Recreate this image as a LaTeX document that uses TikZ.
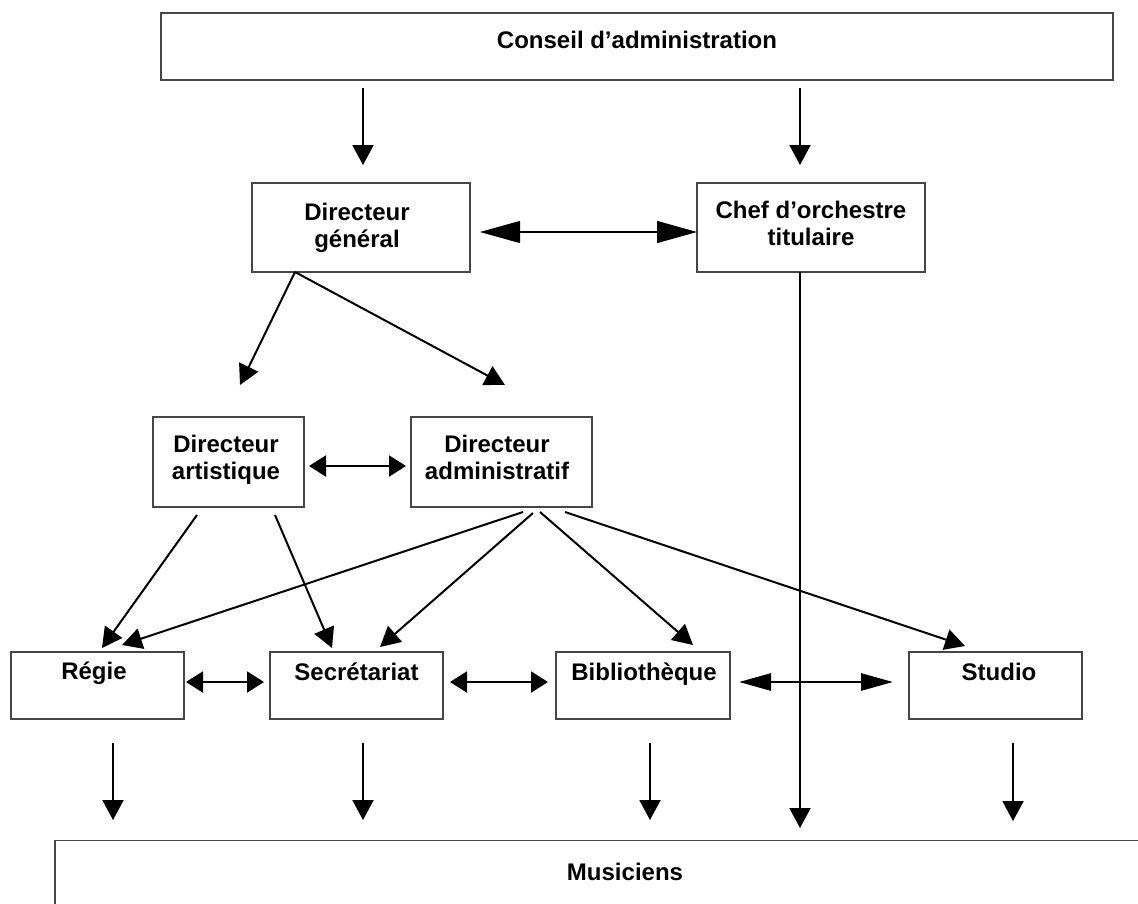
\documentclass[tikz,border=0pt]{standalone}
\usepackage{fontspec}
\setmainfont{Liberation Sans}
\usetikzlibrary{arrows.meta}
\begin{document}
\begin{tikzpicture}[x=1pt,y=-1pt,
  box/.style={draw=gray!55!black, line width=1.2pt, fill=white, inner sep=0pt},
  lbl/.style={font=\fontsize{24}{27}\selectfont\bfseries, align=center, inner sep=0pt, anchor=base},
  arr/.style={line width=2pt, -{Triangle[length=20pt,width=21pt]}},
  darr/.style={line width=2pt, {Triangle[length=17pt,width=21pt]}-{Triangle[length=17pt,width=21pt]}},
  thinarr/.style={line width=1.1pt, {Triangle[length=40pt,width=22pt]}-{Triangle[length=40pt,width=22pt]}},
  thickarr/.style={line width=2.8pt, {Triangle[length=32pt,width=17pt]}-{Triangle[length=32pt,width=17pt]}}]
\useasboundingbox (0,0) rectangle (1138,903);
\clip (0,0) rectangle (1138,903);
\fill[white] (0,0) rectangle (1138,903);

% boxes
\node[box, minimum width=952, minimum height=67] (conseil) at (637,46.5) {};
\node[box, minimum width=218, minimum height=89] (dg) at (361,227.5) {};
\node[box, minimum width=228, minimum height=89] (chef) at (811,227.5) {};
\node[box, minimum width=151, minimum height=90] (dart) at (228.5,462) {};
\node[box, minimum width=181, minimum height=90] (dadm) at (501.5,462) {};
\node[box, minimum width=173, minimum height=67] (regie) at (97.5,685.5) {};
\node[box, minimum width=173, minimum height=67] (secr) at (356.5,685.5) {};
\node[box, minimum width=174, minimum height=67] (biblio) at (643,685.5) {};
\node[box, minimum width=173, minimum height=67] (studio) at (995.5,685.5) {};
\node[box, minimum width=1140, minimum height=120] (music) at (625,900.5) {};

% labels (base = baseline of the last line)
\node[lbl] (conseil-t) at (637,48) {Conseil d’administration};
\node[lbl] (dg-t) at (357,247) {Directeur\\général};
\node[lbl] (chef-t) at (811,245) {Chef d’orchestre\\titulaire};
\node[lbl] (dart-t) at (226,479) {Directeur\\artistique};
\node[lbl] (dadm-t) at (497,479) {Directeur\\administratif};
\node[lbl] (regie-t) at (94,679) {Régie};
\node[lbl] (secr-t) at (356.5,680) {Secrétariat};
\node[lbl] (biblio-t) at (644,680) {Bibliothèque};
\node[lbl] (studio-t) at (999,680) {Studio};
\node[lbl] (music-t) at (625,880) {Musiciens};

% connector end points
\coordinate (c1) at (363,88);   \coordinate (g1) at (363,165);
\coordinate (c2) at (800,88);   \coordinate (h1) at (800,165);
\coordinate (dgL) at (480,232); \coordinate (chL) at (697,232);
\coordinate (dgB) at (295,272);
\coordinate (daT) at (240,385); \coordinate (dmT) at (505,385);
\coordinate (daR) at (309,466); \coordinate (dmL) at (406,466);
\coordinate (da1) at (197,515); \coordinate (da2) at (275,515);
\coordinate (dm1) at (523,512); \coordinate (dm2) at (533,513);
\coordinate (dm3) at (540,512); \coordinate (dm4) at (565,512);
\coordinate (r1) at (102,648);  \coordinate (r2) at (122,645);
\coordinate (s1) at (332,648);  \coordinate (s2) at (380,647);
\coordinate (b1) at (693,645);  \coordinate (st1) at (965,646);
\coordinate (rsL) at (186,682); \coordinate (rsR) at (264,682);
\coordinate (sbL) at (450,682); \coordinate (sbR) at (548,682);
\coordinate (bsL) at (739,682); \coordinate (bsR) at (893,682);
\coordinate (chB) at (800,272); \coordinate (chE) at (800,828);
\coordinate (rB) at (113,743);  \coordinate (rE) at (113,820);
\coordinate (sB) at (363,743);  \coordinate (sE) at (363,820);
\coordinate (bB) at (650,743);  \coordinate (bE) at (650,820);
\coordinate (tB) at (1013,743); \coordinate (tE) at (1013,821);

% connectors
\draw[arr] (c1) -- (g1);
\draw[arr] (c2) -- (h1);
\draw[thinarr] (dgL) -- (chL);
\draw[arr] (dgB) -- (daT);
\draw[arr] (dgB) -- (dmT);
\draw[darr] (daR) -- (dmL);
\draw[arr] (da1) -- (r1);
\draw[arr] (da2) -- (s1);
\draw[arr] (dm1) -- (r2);
\draw[arr] (dm2) -- (s2);
\draw[arr] (dm3) -- (b1);
\draw[arr] (dm4) -- (st1);
\draw[darr] (rsL) -- (rsR);
\draw[darr] (sbL) -- (sbR);
\draw[thickarr] (bsL) -- (bsR);
\draw[arr] (chB) -- (chE);
\draw[arr] (rB) -- (rE);
\draw[arr] (sB) -- (sE);
\draw[arr] (bB) -- (bE);
\draw[arr] (tB) -- (tE);
\end{tikzpicture}
\end{document}
